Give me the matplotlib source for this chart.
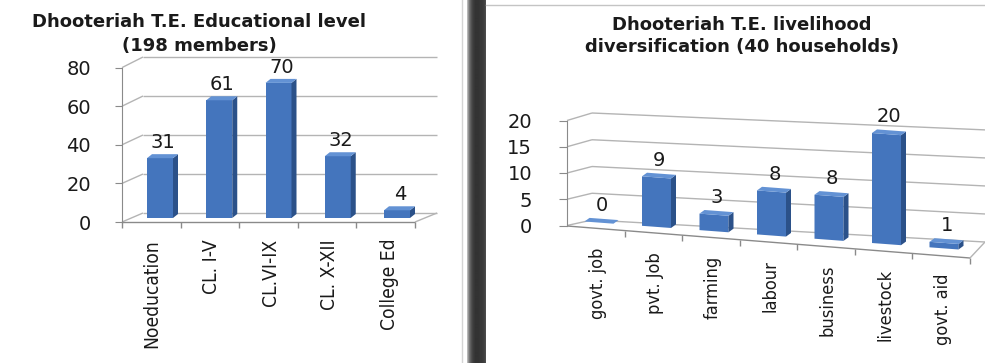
import numpy as np
import matplotlib
matplotlib.use("Agg")
import matplotlib.pyplot as plt
import matplotlib.transforms as mtransforms
from matplotlib.patches import Polygon
from matplotlib.lines import Line2D
from matplotlib import font_manager as fm

# ---- data ----
edu_cats = ["Noeducation", "CL. I-V", "CL.VI-IX", "CL. X-XII", "College Ed"]
edu_vals = [31, 61, 70, 32, 4]
edu_ticks = [0, 20, 40, 60, 80]

liv_cats = ["govt. job", "pvt. Job", "farming", "labour", "business", "livestock", "govt. aid"]
liv_vals = [0, 9, 3, 8, 8, 20, 1]
liv_ticks = [0, 5, 10, 15, 20]

FRONT = "#4475bd"
SIDE = "#2b5189"
TOP = "#6392d4"
GRID = "#b4b4b4"
AXC = "#8a8a8a"
INK = "#1a1a1a"

# a condensed face for the rotated category labels, if one is installed
NARROW = None
for f in fm.fontManager.ttflist:
    tag = (f.name + " " + f.fname).lower()
    if f.weight in (400, "normal", "regular") and f.style == "normal" and (
            "narrow" in tag or "condensed" in tag or f.stretch in ("condensed", "semi-condensed")):
        NARROW = fm.FontProperties(fname=f.fname)
        break
if NARROW is None:
    NARROW = fm.FontProperties(family="DejaVu Sans")

W, H = 985, 363
fig = plt.figure(figsize=(W / 100, H / 100), dpi=100)


def px_axes(box):
    x0, y0, x1, y1 = box
    return fig.add_axes([x0 / W, 1 - y1 / H, (x1 - x0) / W, (y1 - y0) / H])


def set_map(ax, box, m):
    # m = (px of x=0, px per x unit, px (from top) of y=0, px per y unit)
    ax.set_xlim((box[0] - m[0]) / m[1], (box[2] - m[0]) / m[1])
    ax.set_ylim((m[2] - box[3]) / m[3], (m[2] - box[1]) / m[3])


def p2d(m, px, py):
    return (px - m[0]) / m[1], (m[2] - py) / m[3]


def seg(ax, m, a, b, **kw):
    (x0, y0), (x1, y1) = p2d(m, *a), p2d(m, *b)
    ax.add_line(Line2D([x0, x1], [y0, y1], color=kw.pop("color", GRID), lw=kw.pop("lw", 1.0),
                       solid_capstyle="butt", **kw))


def front_axis(box, m, ticks, axis_px, tick_len, pad_px):
    ax = px_axes(box)
    set_map(ax, box, m)
    ax.patch.set_visible(False)
    for s in ["top", "right", "bottom"]:
        ax.spines[s].set_visible(False)
    ax.spines["left"].set_position(("data", (axis_px - m[0]) / m[1]))
    ax.spines["left"].set_bounds(ticks[0], ticks[-1])
    ax.spines["left"].set_color(AXC)
    ax.set_xticks([])
    ax.set_yticks(ticks)
    ax.tick_params(axis="y", length=tick_len * 0.72, color=AXC, pad=pad_px * 0.72,
                   labelsize=14, labelcolor=INK)
    return ax


def bars3d(ax, xs, vals, width, ddx, ddy, trans):
    ax.bar(xs, vals, width=width, color=FRONT, transform=trans, zorder=3)
    for x, v in zip(xs, vals):
        xl, xr = x - width / 2, x + width / 2
        ax.add_patch(Polygon([(xr, 0), (xr, v), (xr + ddx, v + ddy), (xr + ddx, ddy)],
                             closed=True, fc=SIDE, ec="none", transform=trans, zorder=3))
        ax.add_patch(Polygon([(xl, v), (xr, v), (xr + ddx, v + ddy), (xl + ddx, v + ddy)],
                             closed=True, fc=TOP, ec="none", transform=trans, zorder=3))


def fit_labels(texts, ref_text, target_px):
    # size the rotated labels so the reference label has its length in the original
    fig.canvas.draw()
    r = fig.canvas.get_renderer()
    ext = ref_text.get_window_extent(r).height
    size = ref_text.get_fontsize() * target_px / ext
    for t in texts:
        t.set_fontsize(size)


# ================= left chart: educational level =================
BOX_L = (0, 0, 466, 363)
MAP_L = (160, 59.25, 218, 1.93)   # bar plane
axL = px_axes(BOX_L)
axL.axis("off")
set_map(axL, BOX_L, MAP_L)

for v in edu_ticks:
    yb = 213 - 1.95 * v
    seg(axL, MAP_L, (122, 222 - 1.93 * v), (143, yb))
    seg(axL, MAP_L, (143, yb), (437, yb))
seg(axL, MAP_L, (122, 222), (415, 222), color=AXC)
seg(axL, MAP_L, (415, 222), (437, 213))
for k in range(6):
    xk = 122 + (415 - 122) / 5 * k
    seg(axL, MAP_L, (xk, 222), (xk, 228), color=AXC)

bars3d(axL, np.arange(len(edu_vals)), edu_vals, 26 / 59.25, 5 / 59.25, 4 / 1.93, axL.transData)
for i, v in enumerate(edu_vals):
    axL.text(i + 0.05, v + 4 / 1.93 + 2 / 1.93, str(v), ha="center", va="bottom",
             fontsize=14, color=INK, zorder=4)
labL = []
for i, c in enumerate(edu_cats):
    x, y = p2d(MAP_L, 0, 239)
    labL.append(axL.text(i - 8 / 59.25, y, c, rotation=90, ha="center", va="top",
                         fontproperties=NARROW, fontsize=12, color=INK))

front_axis(BOX_L, (160, 59.25, 222, 1.93), edu_ticks, 122, 7, 24)

fig.text(199 / W, 1 - 22 / H, "Dhooteriah T.E. Educational level", ha="center", va="center",
         fontsize=13, fontweight="bold", color=INK)
fig.text(199 / W, 1 - 46 / H, "(198 members)", ha="center", va="center",
         fontsize=13, fontweight="bold", color=INK)

# ================= right chart: livelihood diversification =================
BOX_R = (486, 0, 985, 363)
MAP_R = (599, 57.5, 222.6, 5.5)   # bar plane
axR = px_axes(BOX_R)
axR.axis("off")
set_map(axR, BOX_R, MAP_R)

shear = 4.3 / 5.5
trR = mtransforms.Affine2D(np.array([[1, 0, 0], [-shear, 1, 0], [0, 0, 1]])) + axR.transData

for v in liv_ticks:
    yb = 220 - 5.35 * v
    seg(axR, MAP_R, (567, 225.5 - 5.25 * v), (592, yb))
    seg(axR, MAP_R, (592, yb), (985, yb + 393 * (0.056 - 0.013 * v / 20)))
seg(axR, MAP_R, (567, 226), (970, 258), color=AXC)
seg(axR, MAP_R, (970, 258), (985, 242))
for k in range(1, 8):
    xk = 567 + (970 - 567) / 7 * k
    yk = 226 + (258 - 226) / 7 * k
    seg(axR, MAP_R, (xk, yk), (xk, yk + 6), color=AXC)

bars3d(axR, np.arange(len(liv_vals)), liv_vals, 29 / 57.5, 5 / 57.5, 4 / 5.5, trR)
for i, v in enumerate(liv_vals):
    axR.text(i + 0.05, v + 4 / 5.5 + 4 / 5.5, str(v), ha="center", va="bottom",
             fontsize=14, color=INK, transform=trR, zorder=4)
labR = []
for i, c in enumerate(liv_cats):
    labR.append(axR.text(i - 0.02, -25 / 5.5, c, rotation=90, ha="center", va="top",
                         fontproperties=NARROW, fontsize=12, color=INK, transform=trR))

front_axis(BOX_R, (599, 57.5, 225.5, 5.25), liv_ticks, 567, 8, 27)

fig.text(742 / W, 1 - 25 / H, "Dhooteriah T.E. livelihood", ha="center", va="center",
         fontsize=13, fontweight="bold", color=INK)
fig.text(742 / W, 1 - 47 / H, "diversification (40 households)", ha="center", va="center",
         fontsize=13, fontweight="bold", color=INK)

# ---- panel borders / dark separator ----
fig.add_artist(Line2D([462 / W, 462 / W], [0, 1], color="#d4d4d4", lw=1))
fig.add_artist(Line2D([486 / W, 1], [1 - 5 / H, 1 - 5 / H], color="#c4c4c4", lw=1))
axS = fig.add_axes([467 / W, 0, 19 / W, 1])
axS.axis("off")
grad = np.array([[0.72, 0.58, 0.46, 0.38, 0.32, 0.27, 0.24, 0.22, 0.2, 0.2,
                  0.2, 0.2, 0.21, 0.22, 0.22, 0.23, 0.24, 0.26, 0.3]])
axS.imshow(grad, cmap="gray", vmin=0, vmax=1, aspect="auto", interpolation="bilinear")

fit_labels(labL, labL[0], 109)
fit_labels(labR, labR[5], 72)

fig.savefig("out.png", dpi=100)
